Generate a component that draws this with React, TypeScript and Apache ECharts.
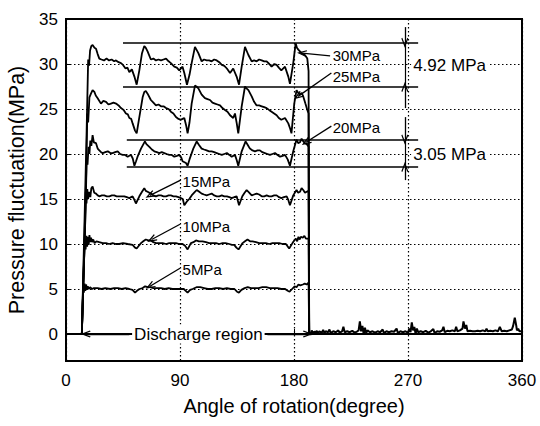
import React, { useEffect, useRef } from "react";
import * as echarts from "echarts";

// ---- data (angle in degrees, pressure in MPa) ----
const xTicks = [0, 90, 180, 270, 360];
const yRange = [-3, 35];

const lead: number[][] = [[0, 0], [12.5, 0]];

const s30: number[][] = [[12.5,0],[16.3,22.6],[17.5,30.5],[18.2,29.8],[19,31.5],[20,32.0],[21,32.1],[22.5,31.8],[23.7,31.7],[25,31.1],[26.3,30.6],[28,30.5],[30,30.4],[32,30.6],[34,30.4],[36,30.5],[38,30.3],[39.5,30.4],[41.5,30.2],[43.4,30.1],[45,29.9],[47,29.5],[48.5,29.6],[50,29.1],[52,29.4],[54,28.6],[55.8,27.7],[57.9,29.3],[60,31.2],[61.8,32.0],[63,31.8],[64.4,31.4],[67,30.5],[69,30.6],[71,30.4],[73,30.5],[75,30.4],[77,30.5],[79,30.6],[81,30.3],[82.8,30.1],[85.5,29.7],[87.5,29.6],[89.4,29.3],[92,29.7],[93.4,29.0],[95.5,27.7],[97.5,28.8],[99.2,30.1],[101.8,31.9],[103,31.6],[104.5,31.2],[107.1,30.3],[109,30.5],[111,30.4],[113,30.4],[115,30.3],[117,30.5],[119,30.4],[121,30.2],[123,29.9],[125,29.8],[127,29.5],[129.5,29.0],[132,29.5],[134.7,28.6],[136.6,27.7],[138.7,29.7],[141.3,31.9],[142.5,31.5],[144,31.0],[146.6,30.3],[148.5,30.4],[150.5,30.3],[152.5,30.5],[154.5,30.4],[156.5,30.3],[158.4,30.3],[160.5,30.0],[162.3,29.7],[164.5,30.0],[166.3,29.9],[168,29.6],[170,29.3],[172.9,29.7],[175.5,28.6],[176.8,27.8],[179.4,30.1],[181.3,32.3],[182.3,31.8],[183.4,31.6],[186,31.2],[188.6,31.0],[190.5,30.6],[191.5,29.2],[192,0]];

const s25: number[][] = [[12.5,0],[16,18],[16.8,24.5],[17.5,23.5],[18.5,26.3],[19.7,26.7],[21,27.1],[22.4,26.9],[23.5,26.5],[25,26.2],[27.6,25.6],[29.5,25.9],[31.6,25.8],[33.5,25.5],[35.5,25.6],[37.5,25.7],[39.5,25.6],[41.5,25.4],[43.4,25.1],[45.5,24.9],[47.3,24.5],[48.8,24.4],[50,24.0],[51.5,23.9],[52.6,23.4],[54.5,22.6],[55.8,22.3],[57.9,24.1],[60.5,26.3],[61.8,26.9],[63,27.0],[64.4,26.7],[67,26.0],[69,25.7],[71,25.4],[73,25.5],[75,25.3],[77,25.3],[79,25.1],[81,25.0],[82.8,24.7],[84.8,24.5],[86.8,24.1],[88.8,23.9],[90.7,23.8],[92,23.9],[93.4,24.0],[94.8,23.2],[96,22.3],[97.5,23.5],[99.2,25.6],[101.8,27.6],[103,27.5],[104.5,27.3],[107.1,26.6],[109.7,26.2],[111.7,26.1],[113.7,26.0],[115.6,25.7],[117.6,25.6],[119.6,25.5],[121.6,25.4],[123.5,25.1],[125.5,24.9],[127.5,24.7],[129.5,24.3],[132,24.0],[133.4,24.5],[134.8,23.4],[136,22.3],[138.7,25.3],[141.3,27.5],[142.5,27.3],[144,27.1],[146.6,26.4],[148.5,25.8],[150.5,25.4],[152.5,25.4],[154.5,25.3],[156.5,25.2],[158.4,25.1],[160.3,24.9],[162.3,24.7],[164.3,24.5],[166.3,24.3],[168,24.0],[170,23.8],[172.9,24.0],[175.5,23.4],[177,22.8],[178,22.3],[180.2,25.6],[182,27.1],[183.3,26.8],[184.7,26.6],[186,26.8],[187.3,26.4],[189,25.6],[190.5,24.9],[191.5,24.5],[192,0]];

const s20: number[][] = [[12.5,0],[15.5,14],[16.3,19.5],[17,18.8],[17.8,20.8],[18.5,20.0],[19.2,21.5],[20,20.9],[21,22.1],[22,21.3],[23.7,21.2],[25,20.6],[26.3,20.4],[27.7,20.2],[29,20.1],[31,20.2],[33,20.3],[35,20.1],[36.8,20.1],[38.8,20.2],[40.8,20.3],[42.8,20.0],[44.7,19.9],[46.7,19.9],[48.7,19.7],[50,19.8],[51.3,19.9],[52.7,19.5],[54,18.7],[55.3,19.2],[56.5,19.7],[59.2,20.6],[62.3,21.4],[63.5,21.1],[65.8,20.8],[67.8,20.5],[69.7,20.3],[71.7,20.2],[73.6,20.1],[75.6,20.2],[77.6,20.1],[79.5,20.0],[81.5,19.9],[83.5,19.9],[85.5,19.7],[87.5,19.8],[89.4,19.9],[91,19.6],[92,19.2],[94.7,19.0],[96,18.7],[97.5,19.4],[100.5,20.6],[103.2,21.4],[105,21.0],[107.1,20.6],[109,20.5],[111,20.4],[113,20.3],[115,20.3],[117,20.2],[119,20.1],[121,20.0],[123,19.9],[125,20.0],[127,20.1],[129,19.9],[130.8,19.7],[133.4,19.9],[134.8,19.3],[136,18.7],[138.7,20.3],[141.8,21.4],[143.5,21.0],[145.2,20.6],[147.2,20.4],[149.2,20.3],[151.2,20.4],[153.1,20.4],[155,20.2],[157,20.1],[159,20.0],[161,19.9],[163,20.0],[165,20.1],[167,19.9],[169,19.7],[171,19.8],[172.9,19.9],[175,19.4],[176.8,18.7],[179.4,20.3],[182,21.6],[183.3,21.2],[184.7,21.3],[186,21.7],[187.3,21.4],[188.7,21.2],[190,21.1],[191.5,20.8],[192,0]];

const s15: number[][] = [[12.5,0],[15,11.5],[15.6,15.8],[16.2,14.5],[16.8,16.1],[17.4,15.0],[18.4,15.8],[19.2,15.2],[20,16.2],[21,16.4],[22.3,15.7],[23.7,15.6],[25,15.4],[26.3,15.3],[28.3,15.4],[30.2,15.4],[32.2,15.3],[34.2,15.3],[36.2,15.4],[38.1,15.4],[40,15.3],[42,15.3],[44,15.3],[46,15.3],[48,15.2],[50,15.1],[52.6,15.3],[54,14.9],[55.2,14.5],[57.9,15.3],[60,15.8],[61.8,16.2],[63,15.9],[64.4,15.8],[67,15.6],[69,15.4],[71,15.3],[73,15.4],[75,15.4],[77,15.3],[79,15.3],[81,15.4],[82.8,15.4],[84.8,15.3],[86.8,15.3],[88.8,15.2],[90.7,15.1],[92.2,15.0],[93.4,14.3],[95.3,14.7],[97.3,15.0],[99.2,15.4],[101.2,15.7],[103.2,16.0],[105.2,15.8],[107.1,15.6],[109,15.5],[111,15.4],[113,15.5],[115,15.6],[117,15.4],[119,15.3],[121,15.3],[123,15.4],[125,15.3],[127,15.3],[129,15.2],[130.8,15.1],[132.8,15.2],[134.7,15.3],[136.6,14.3],[139.2,15.3],[141,15.7],[142.6,16.0],[144.6,15.7],[146.6,15.4],[148.5,15.5],[150.5,15.6],[152.5,15.5],[154.5,15.3],[156.5,15.3],[158.4,15.4],[160.4,15.3],[162.3,15.3],[164.3,15.4],[166.3,15.4],[168.2,15.2],[170,15.1],[172,15.2],[174.2,15.3],[175.5,14.9],[176.8,14.3],[179.4,15.4],[182,16.0],[183.3,15.7],[184.7,15.8],[186,16.2],[187.3,16.0],[188.7,15.7],[190,15.8],[191.5,15.9],[192,0]];

const s10: number[][] = [[12.5,0],[14.3,8.5],[14.9,10.6],[15.5,9.4],[16.1,10.9],[16.7,9.7],[17.3,10.8],[17.9,9.9],[18.5,11.0],[19.1,10.2],[19.8,10.7],[20.5,10.2],[21.5,10.5],[22.5,10.1],[24,10.3],[26.3,10.2],[29,10.1],[31.6,10.1],[34,10.0],[36.8,10.1],[39.5,10.0],[42,10.0],[45,10.1],[48.7,10.0],[52.6,9.9],[54.5,9.6],[55.8,9.5],[57.5,9.8],[59.2,10.1],[61,10.3],[63,10.5],[65,10.4],[67,10.4],[69,10.2],[71,10.1],[73.6,10.1],[76.3,10.1],[79,10.0],[81.5,10.1],[84,10.1],[86.8,10.1],[89.5,10.0],[92,10.0],[94,9.8],[96,9.4],[98.6,10.1],[100.6,10.2],[102.6,10.4],[105,10.3],[107.8,10.3],[110.5,10.2],[113,10.1],[116,10.1],[118.4,10.1],[121,10.0],[123.6,10.1],[126,10.1],[128.9,10.0],[131,9.9],[132.8,9.9],[134.5,9.6],[136.2,9.4],[139.4,10.1],[141.3,10.3],[143.3,10.5],[145.3,10.3],[147.3,10.3],[150,10.2],[152.5,10.1],[155,10.1],[157.8,10.1],[160.5,10.0],[163,10.1],[165.5,10.1],[168.3,10.1],[171,10.0],[173.6,10.0],[176.2,9.5],[178.8,10.1],[180.2,10.4],[181.5,10.6],[182.5,10.3],[183.5,10.8],[184.5,10.5],[185.4,10.8],[187,10.7],[188.2,10.9],[189.4,10.6],[191.5,10.6],[192,0]];

const s5: number[][] = [[12.5,0],[13.5,5.3],[14.1,4.6],[14.7,5.6],[15.3,4.8],[15.9,5.5],[16.5,4.9],[17.2,5.3],[18,5.0],[19,5.2],[20.5,5.0],[22,5.1],[25,5.1],[28,5.0],[31,5.1],[35,5.0],[38,5.1],[41,5.1],[44,5.0],[47,5.1],[50,5.0],[52.5,4.9],[54.5,4.6],[56,4.8],[58,5.0],[60.5,5.1],[62.5,5.3],[64.5,5.2],[66.3,5.2],[69,5.1],[72,5.1],[75,5.1],[78,5.0],[81,5.1],[84,5.0],[87,5.0],[90,5.0],[93,5.0],[96,4.6],[98,4.9],[100,5.0],[103,5.2],[106,5.2],[109,5.1],[112,5.0],[115,5.0],[118,5.1],[121,5.1],[124,5.0],[127,5.1],[130,5.0],[133,5.0],[135,4.7],[136.5,4.6],[138.5,4.9],[141,5.1],[143.5,5.2],[146,5.1],[149,5.1],[152,5.1],[155,5.2],[158,5.2],[161,5.1],[164,5.1],[167,5.1],[170,5.0],[173,5.0],[175,4.8],[176.5,4.7],[178.5,5.0],[180.5,5.3],[182,5.2],[183.5,5.5],[185,5.4],[187,5.5],[188.5,5.6],[190,5.5],[191.5,5.7],[192,0]];

const noise: number[][] = [[192,0.2],[193,-0.1],[194,0.4],[195,0.0],[196,0.3],[197,0.1],[198,0.35],[199,0.05],[200,0.3],[202,0.15],[203,0.45],[204,0.1],[205,0.3],[207,0.2],[208,0.5],[209,0.1],[211,0.3],[213,0.2],[215,0.4],[216,0.15],[218,0.3],[219,0.8],[220,0.2],[222,0.3],[224,0.2],[226,0.35],[228,0.15],[230,0.3],[231,0.4],[232,1.4],[233,0.3],[234,0.9],[235,0.0],[236,0.7],[237,0.1],[238,0.4],[240,0.2],[242,0.3],[244,0.15],[246,0.3],[248,0.2],[250,0.5],[251,0.1],[253,0.3],[255,0.2],[257,0.3],[259,0.25],[261,0.6],[262,0.1],[264,0.3],[266,0.2],[268,0.3],[270,0.15],[271,0.6],[272,0.2],[273,1.3],[274,0.4],[275,0.8],[276,0.0],[277,0.6],[278,0.2],[280,0.3],[282,0.2],[284,0.35],[286,0.15],[288,0.3],[290,0.55],[291,0.1],[293,0.3],[295,0.25],[297,0.4],[298,0.8],[299,0.2],[301,0.35],[303,0.3],[305,0.4],[307,0.3],[308,0.8],[309,0.3],[311,0.4],[313,0.6],[313.8,1.4],[315,0.6],[316,1.0],[317,0.3],[319,0.35],[321,0.3],[323,0.3],[325,0.35],[327,0.3],[329,0.4],[331,0.3],[332,0.6],[333,0.3],[335,0.35],[337,0.3],[339,0.4],[341,0.3],[342.5,0.8],[344,0.3],[346,0.35],[348,0.3],[350,0.4],[352,0.5],[353,0.9],[354.3,1.8],[355.5,0.9],[356,0.4],[357,0.6],[358,0.3],[360,0.3]];

// reference bands (MPa) and their span (deg)
const band30 = [32.35, 27.45];
const band20 = [21.6, 18.55];
const bandSpan30 = [45, 278];
const bandSpan20 = [48, 278];
const bandTexts = ["4.92 MPa", "3.05 MPa"];
const bandTextAt = [[272.5, 29.8], [272.5, 20.0]];
const dimX = 267.5;
const dim30Ends = [34.1, 25.1];
const dim20Ends = [24.1, 17.1];

// curve labels: text anchor and arrow (from -> to)
const curveNames = ["30MPa", "25MPa", "20MPa", "15MPa", "10MPa", "5MPa"];
const curveNameAt = [[210.5, 30.9], [210.5, 28.6], [210.5, 22.9], [92, 16.9], [92, 11.9], [92, 7.2]];
const curveArrows = [
  [208.5, 30.9, 186.3, 31.2],
  [209.5, 29.0, 183.2, 26.4],
  [209.5, 23.1, 189.5, 21.3],
  [90.5, 17.1, 66.3, 15.4],
  [90, 12.2, 67.6, 10.5],
  [90, 7.3, 66.3, 5.3],
];
const dischargeText = "Discharge region";
const dischargeAt = [104.5, 0];
const dischargeArrows = [[50, 0, 15.5, 0], [159, 0, 191, 0]];

const CHEVRON = "path://M5,0L10,11L8.6,11.8L5,4.2L1.4,11.8L0,11Z";
const FONT = "Arial, 'Liberation Sans', Helvetica, sans-serif";

export default function App() {
  const ref = useRef<HTMLDivElement>(null);
  useEffect(() => {
    document.body.style.margin = "0";
    if (!ref.current) return;
    const chart = echarts.init(ref.current, undefined, { renderer: "svg" });

    const arrowLine = (a: number[]) => [
      { coord: [a[0], a[1]], symbol: "none" },
      { coord: [a[2], a[3]], symbol: CHEVRON, symbolSize: [7, 10] },
    ];
    const plainLine = (x1: number, y1: number, x2: number, y2: number, w = 1.6) => [
      { coord: [x1, y1], symbol: "none", lineStyle: { width: w } },
      { coord: [x2, y2], symbol: "none" },
    ];

    const markLines: any[] = [
      plainLine(bandSpan30[0], band30[0], bandSpan30[1], band30[0]),
      plainLine(bandSpan30[0], band30[1], bandSpan30[1], band30[1]),
      plainLine(bandSpan20[0], band20[0], bandSpan20[1], band20[0]),
      plainLine(bandSpan20[0], band20[1], bandSpan20[1], band20[1]),
      arrowLine([dimX, dim30Ends[0], dimX, band30[0]]),
      plainLine(dimX, band30[0], dimX, band30[1], 1.2),
      arrowLine([dimX, dim30Ends[1], dimX, band30[1]]),
      arrowLine([dimX, dim20Ends[0], dimX, band20[0]]),
      plainLine(dimX, band20[0], dimX, band20[1], 1.2),
      arrowLine([dimX, dim20Ends[1], dimX, band20[1]]),
      ...curveArrows.map(arrowLine),
      ...dischargeArrows.map(arrowLine),
    ];

    const textItem = (name: string, at: number[], pos: string, size: number, bg: boolean) => ({
      name,
      coord: at,
      symbol: "rect",
      symbolSize: 0,
      label: {
        show: true,
        formatter: "{b}",
        position: pos,
        distance: 0,
        color: "#000",
        fontSize: size,
        fontFamily: FONT,
        backgroundColor: bg ? "#fff" : "transparent",
        padding: bg ? [1, 2] : 0,
      },
    });

    const markPoints: any[] = [
      ...curveNames.map((n, i) => textItem(n, curveNameAt[i], "right", 15, false)),
      ...bandTexts.map((n, i) => textItem(n, bandTextAt[i], "right", 17, true)),
      textItem(dischargeText, dischargeAt, "inside", 17, true),
    ];

    const curve = (data: number[][], w = 1.8) => ({
      type: "line",
      data,
      symbol: "none",
      z: 3,
      lineStyle: { color: "#000", width: w },
      silent: true,
    });

    chart.setOption({
      animation: false,
      textStyle: { fontFamily: FONT },
      grid: {
        left: 66,
        right: 18,
        top: 19,
        bottom: 65,
        outerBoundsMode: "none",
        containLabel: false,
        show: true,
        borderColor: "#000",
        borderWidth: 2,
      },
      xAxis: {
        type: "value",
        min: xTicks[0],
        max: xTicks[xTicks.length - 1],
        interval: 90,
        name: "Angle of rotation(degree)",
        nameLocation: "middle",
        nameGap: 35,
        nameTextStyle: { color: "#000", fontSize: 20, fontFamily: FONT },
        axisLine: { show: true, lineStyle: { color: "#000", width: 2 } },
        axisTick: { show: true, inside: true, length: 5, lineStyle: { color: "#000" } },
        axisLabel: { color: "#000", fontSize: 17, margin: 11, fontFamily: FONT },
        splitLine: { show: true, lineStyle: { color: "#000", width: 1.2, type: [1.5, 2.5] } },
      },
      yAxis: {
        type: "value",
        min: yRange[0],
        max: yRange[1],
        splitNumber: 7,
        name: "Pressure fluctuation(MPa)",
        nameLocation: "middle",
        nameGap: 36,
        nameTextStyle: { color: "#000", fontSize: 21.5, fontFamily: FONT },
        axisLine: { show: true, lineStyle: { color: "#000", width: 2 } },
        axisTick: { show: true, inside: true, length: 5, lineStyle: { color: "#000" } },
        axisLabel: {
          color: "#000",
          fontSize: 17,
          margin: 8,
          fontFamily: FONT,
          formatter: (v: number) => (v % 5 === 0 ? String(v) : ""),
        },
        splitLine: { show: true, lineStyle: { color: "#000", width: 1.2, type: [1.5, 2.5] } },
      },
      series: [
        {
          ...curve(lead),
          markLine: {
            silent: true,
            symbol: ["none", "none"],
            label: { show: false },
            lineStyle: { color: "#000", width: 1.3, type: "solid" },
            data: markLines,
          },
          markPoint: { silent: true, data: markPoints, z: 10 },
        },
        curve(s5),
        curve(s10),
        curve(s15),
        curve(s20),
        curve(s25),
        curve(s30),
        curve(noise, 2),
      ],
    });
    return () => chart.dispose();
  }, []);
  return (
    <div
      ref={ref}
      style={{ position: "fixed", left: 0, top: 0, width: 540, height: 426, background: "#fff" }}
    />
  );
}
